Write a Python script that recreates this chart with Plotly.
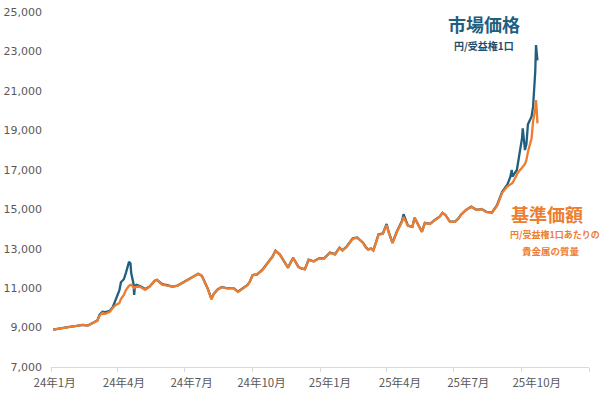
import plotly.graph_objects as go

# ---- data ----
dates = [
    "2024-01-04", "2024-01-12", "2024-01-19", "2024-01-26", "2024-02-05", "2024-02-13", "2024-02-20",
    "2024-02-27", "2024-03-04", "2024-03-07", "2024-03-11", "2024-03-15", "2024-03-21", "2024-03-25",
    "2024-03-29", "2024-04-01", "2024-04-03", "2024-04-05", "2024-04-09", "2024-04-12", "2024-04-16",
    "2024-04-18", "2024-04-19", "2024-04-22", "2024-04-23", "2024-04-24", "2024-04-26", "2024-05-01",
    "2024-05-08", "2024-05-14", "2024-05-21", "2024-05-24", "2024-05-31", "2024-06-07", "2024-06-14",
    "2024-06-21", "2024-06-28", "2024-07-05", "2024-07-12", "2024-07-19", "2024-07-24", "2024-07-29",
    "2024-08-01", "2024-08-06", "2024-08-09", "2024-08-14", "2024-08-20", "2024-08-26", "2024-08-30",
    "2024-09-05", "2024-09-11", "2024-09-17", "2024-09-24", "2024-09-27", "2024-10-01", "2024-10-07",
    "2024-10-14", "2024-10-21", "2024-10-28", "2024-11-01", "2024-11-07", "2024-11-13", "2024-11-18",
    "2024-11-25", "2024-12-02", "2024-12-06", "2024-12-11", "2024-12-16", "2024-12-23", "2024-12-30",
    "2025-01-06", "2025-01-14", "2025-01-21", "2025-01-27", "2025-01-31", "2025-02-06", "2025-02-10",
    "2025-02-14", "2025-02-20", "2025-02-24", "2025-02-28", "2025-03-04", "2025-03-07", "2025-03-11",
    "2025-03-14", "2025-03-21", "2025-03-27", "2025-04-01", "2025-04-04", "2025-04-09", "2025-04-15",
    "2025-04-22", "2025-04-24", "2025-04-30", "2025-05-06", "2025-05-09", "2025-05-13", "2025-05-19",
    "2025-05-23", "2025-05-30", "2025-06-06", "2025-06-12", "2025-06-16", "2025-06-20", "2025-06-26",
    "2025-07-03", "2025-07-07", "2025-07-11", "2025-07-18", "2025-07-25", "2025-08-01", "2025-08-08",
    "2025-08-15", "2025-08-22", "2025-08-29", "2025-09-05", "2025-09-12", "2025-09-16", "2025-09-18",
    "2025-09-19", "2025-09-25", "2025-09-26", "2025-10-02", "2025-10-03", "2025-10-06", "2025-10-08",
    "2025-10-10", "2025-10-15", "2025-10-17", "2025-10-20", "2025-10-21", "2025-10-22", "2025-10-23",
]

# 基準価額 (円/受益権1口あたりの貴金属の質量)
nav = [
    8890, 8940, 9010, 9040, 9090, 9140, 9100,
    9240, 9340, 9600, 9750, 9700, 9800, 10000,
    10150, 10200, 10250, 10450, 10660, 10910, 11120,
    11150, 11170, 11050, 11000, 11050, 11070, 11070,
    10910, 11070, 11370, 11420, 11170, 11120, 11070,
    11120, 11270, 11420, 11570, 11720, 11620, 11220,
    10960, 10430, 10700, 10910, 11050, 11000, 10980,
    11000, 10800, 10950, 11150, 11300, 11650, 11700,
    11900, 12250, 12590, 12890, 12690, 12330, 12030,
    12530, 12080, 12000, 11950, 12430, 12350, 12500,
    12500, 12790, 12700, 13040, 12900, 13100, 13300,
    13500, 13550, 13400, 13300, 13050, 12950, 13000,
    12900, 13700, 13750, 14200, 13800, 13290, 13850,
    14360, 14600, 14150, 14100, 14560, 14300, 13850,
    14300, 14250, 14460, 14610, 14810, 14700, 14360,
    14360, 14500, 14710, 14960, 15120, 14960, 15000,
    14850, 14810, 15170, 15830, 16150, 16230, 16300,
    16330, 16750, 16840, 17100, 17140, 17300, 17500,
    17900, 18600, 19450, 20100, 20530, 20000, 19350,
]

# 市場価格 (円/受益権1口)
market = [
    8890, 8950, 9010, 9040, 9090, 9140, 9100,
    9240, 9360, 9650, 9800, 9780, 9850, 10050,
    10400, 10650, 10900, 11300, 11450, 11800, 12330,
    12250, 11750, 11250, 10650, 11100, 11170, 11100,
    10950, 11080, 11380, 11420, 11200, 11150, 11080,
    11130, 11280, 11430, 11580, 11730, 11620, 11230,
    10970, 10450, 10700, 10920, 11060, 11000, 10990,
    11000, 10820, 10960, 11160, 11320, 11660, 11700,
    11920, 12260, 12600, 12900, 12700, 12340, 12040,
    12540, 12090, 12000, 11960, 12440, 12360, 12510,
    12510, 12800, 12720, 13050, 12920, 13120, 13320,
    13530, 13570, 13420, 13300, 13060, 12960, 13010,
    12920, 13720, 13770, 14250, 13820, 13300, 13870,
    14420, 14750, 14170, 14110, 14570, 14310, 13860,
    14310, 14260, 14470, 14620, 14820, 14710, 14370,
    14370, 14510, 14720, 14970, 15130, 14970, 15010,
    14860, 14830, 15200, 15880, 16250, 16620, 16990,
    16650, 16990, 17200, 18600, 19100, 18000, 18300,
    19300, 19700, 20200, 22000, 23320, 22900, 22550,
]

tick_dates = ["2024-01-06", "2024-04-09", "2024-07-10", "2024-10-13",
              "2025-01-14", "2025-04-19", "2025-07-21", "2025-10-22"]
tick_labels = ["24年1月", "24年4月", "24年7月", "24年10月",
               "25年1月", "25年4月", "25年7月", "25年10月"]
quarter_starts = ["2024-01-01", "2024-04-01", "2024-07-01", "2024-10-01",
                  "2025-01-01", "2025-04-01", "2025-07-01", "2025-10-01", "2026-01-01"]
y_ticks = [7000, 9000, 11000, 13000, 15000, 17000, 19000, 21000, 23000, 25000]

BLUE = "#1F5F7F"
ORANGE = "#ED7D31"
JP = "Noto Sans CJK JP"

fig = go.Figure()
fig.add_trace(go.Scatter(x=dates, y=market, mode="lines", name="市場価格",
                         line=dict(color=BLUE, width=2.3)))
fig.add_trace(go.Scatter(x=dates, y=nav, mode="lines", name="基準価額",
                         line=dict(color=ORANGE, width=2.3)))

fig.update_layout(
    width=600, height=395,
    margin=dict(l=51, r=11, t=12, b=28, autoexpand=False),
    paper_bgcolor="white", plot_bgcolor="white",
    showlegend=False,
    xaxis=dict(
        type="date", range=["2024-01-01", "2026-01-01"], automargin=False,
        tickmode="array", tickvals=tick_dates, ticktext=tick_labels,
        ticks="", showgrid=False, zeroline=False,
        showline=True, linecolor="#D9D9D9", linewidth=1,
        ticklabelstandoff=5,
        tickfont=dict(family=JP, size=11.5, color="#595959"),
        minor=dict(tickmode="array", tickvals=quarter_starts, ticks="outside",
                   ticklen=4, tickcolor="#D9D9D9", showgrid=False),
    ),
    yaxis=dict(
        range=[7000, 25000], tickmode="array", tickvals=y_ticks, automargin=False,
        tickformat=",", showgrid=False, zeroline=False, showline=False,
        ticks="", ticklabelstandoff=8,
        tickfont=dict(family="DejaVu Sans", size=11, color="#595959"),
    ),
)

ann = dict(xref="paper", yref="paper", showarrow=False, xanchor="center", yanchor="middle")
fig.add_annotation(x=0.8054, y=0.9662, text="<b>市場価格</b>",
                   font=dict(family=JP, size=18, color=BLUE), **ann)
fig.add_annotation(x=0.8054, y=0.9043, text="<b>円/受益権1口</b>",
                   font=dict(family=JP, size=10, color="#1F4E6B"), **ann)
fig.add_annotation(x=0.9226, y=0.4315, text="<b>基準価額</b>",
                   font=dict(family=JP, size=18, color=ORANGE), **ann)
fig.add_annotation(x=0.9375, y=0.3724, text="<b>円/受益権1口あたりの</b>",
                   font=dict(family=JP, size=9, color=ORANGE), **ann)
fig.add_annotation(x=0.9300, y=0.3274, text="<b>貴金属の質量</b>",
                   font=dict(family=JP, size=9.5, color=ORANGE), **ann)

fig.write_html("out.html")
